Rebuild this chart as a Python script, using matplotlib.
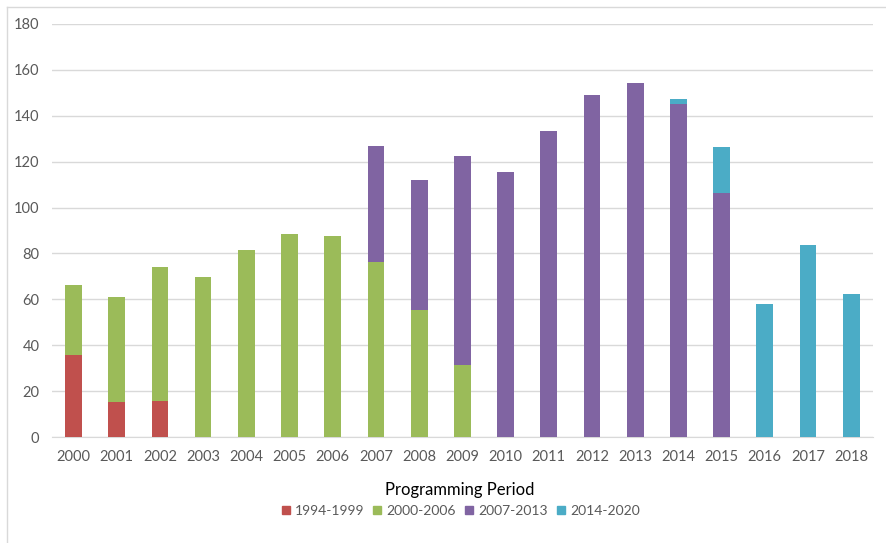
import numpy as np
import matplotlib
matplotlib.use('Agg')
import matplotlib.pyplot as plt
from matplotlib.lines import Line2D

plt.rcParams['font.family'] = ['Lato', 'DejaVu Sans']

years = [str(y) for y in range(2000, 2019)]
p1994 = [35.7, 15.3, 15.7, 0, 0, 0, 0, 0, 0, 0, 0, 0, 0, 0, 0, 0, 0, 0, 0]
p2000 = [30.6, 45.7, 58.4, 69.7, 81.5, 88.5, 87.6, 76.3, 55.4, 31.4, 0, 0, 0, 0, 0, 0, 0, 0, 0]
p2007 = [0, 0, 0, 0, 0, 0, 0, 50.6, 56.6, 91.1, 115.5, 133.4, 149.1, 154.3, 145.2, 106.4, 0, 0, 0]
p2014 = [0, 0, 0, 0, 0, 0, 0, 0, 0, 0, 0, 0, 0, 0, 2.1, 20.0, 58.0, 83.7, 62.3]

labels = ['1994-1999', '2000-2006', '2007-2013', '2014-2020']
colors = ['#C0504D', '#9BBB59', '#8064A2', '#4BACC6']

fig = plt.figure(figsize=(8.87, 5.43), dpi=100)
ax = fig.add_axes([0.0586, 0.195, 0.9254, 0.761])

x = np.arange(len(years))
bottom = np.zeros(len(years))
for vals, c in zip([p1994, p2000, p2007, p2014], colors):
    vals = np.array(vals)
    ax.bar(x, vals, 0.385, bottom=bottom, color=c, zorder=3)
    bottom = bottom + vals

ax.set_xlim(-0.5, len(years) - 0.5)
ax.set_ylim(0, 180)
ax.set_yticks(range(0, 181, 20))
ax.set_xticks(x)
ax.set_xticklabels(years)
ax.grid(axis='y', color='#D9D9D9', linewidth=1, zorder=0)
for s in ['top', 'right', 'left']:
    ax.spines[s].set_visible(False)
ax.spines['bottom'].set_color('#D9D9D9')
ax.tick_params(length=0, labelsize=10.5, colors='#595959')
ax.tick_params(axis='y', pad=9)
ax.tick_params(axis='x', pad=9)

handles = [Line2D([], [], marker='s', linestyle='', color=c, markersize=6) for c in colors]
leg = fig.legend(handles, labels, ncol=4, loc='center', bbox_to_anchor=(0.518, 0.08),
                 frameon=False, fontsize=10, title='Programming Period', title_fontsize=12,
                 handletextpad=0.2, columnspacing=0.5, handlelength=0.9, labelcolor='#595959')

# light frame like the original screenshot
fig.add_artist(Line2D([0.008, 0.008], [0, 0.987], transform=fig.transFigure, color='#D9D9D9', lw=1))
fig.add_artist(Line2D([0.008, 1], [0.987, 0.987], transform=fig.transFigure, color='#D9D9D9', lw=1))

fig.savefig('out.png', dpi=100)
